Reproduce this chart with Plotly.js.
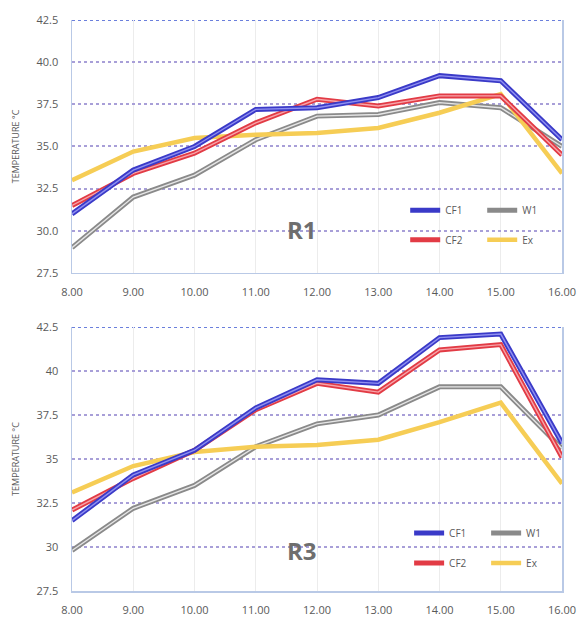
<!DOCTYPE html>
<html>
<head>
<meta charset="utf-8">
<script src="https://cdn.plot.ly/plotly-3.0.1.min.js"></script>
<style>html,body{margin:0;padding:0;background:#fff;}#chart{width:582px;height:617px;}</style>
</head>
<body>
<div id="chart"></div>
<script>
// Hours (x axis)
const hours = [8, 9, 10, 11, 12, 13, 14, 15, 16];
const xTickLabels = ["8.00","9.00","10.00","11.00","12.00","13.00","14.00","15.00","16.00"];

// R1 panel
const r1_CF1 = [31.0, 33.6, 35.0, 37.2, 37.3, 37.9, 39.2, 38.9, 35.4];
const r1_CF2 = [31.5, 33.4, 34.6, 36.4, 37.8, 37.4, 38.0, 38.0, 34.5];
const r1_W1  = [29.0, 32.0, 33.3, 35.4, 36.8, 36.9, 37.6, 37.3, 35.0];
const r1_Ex  = [33.0, 34.7, 35.5, 35.7, 35.8, 36.1, 37.0, 38.1, 33.4];

// R3 panel
const r3_CF1 = [31.5, 34.1, 35.5, 37.9, 39.5, 39.3, 41.9, 42.1, 35.9];
const r3_CF2 = [32.1, 33.9, 35.5, 37.8, 39.3, 38.8, 41.2, 41.5, 35.1];
const r3_W1  = [29.8, 32.2, 33.5, 35.7, 37.0, 37.5, 39.1, 39.1, 35.6];
const r3_Ex  = [33.1, 34.6, 35.4, 35.7, 35.8, 36.1, 37.1, 38.2, 33.6];

const seriesNames = ["CF1", "CF2", "W1", "Ex"];
const yTicks = [27.5, 30, 32.5, 35, 37.5, 40, 42.5];
const yTickTextR1 = ["27.5","30.0","32.5","35.0","37.5","40.0","42.5"];
const yTickTextR3 = ["27.5","30","32.5","35","37.5","40","42.5"];

const styles = {
  CF1: {outer: "#3a3ac8", inner: "#9090f0", w: 5, double: true},
  CF2: {outer: "#e23b45", inner: "#f7a5aa", w: 5, double: true},
  W1:  {outer: "#8a8a8a", inner: "#e6e6e6", w: 5, double: true},
  Ex:  {outer: "#f6cd55", inner: null, w: 4.5, double: false}
};

function makeTraces(data, xa, ya, legRow1, legRow2) {
  const out = [];
  const order = ["W1", "Ex", "CF2", "CF1"];
  const legendFor = {CF1: legRow1, W1: legRow1, CF2: legRow2, Ex: legRow2};
  order.forEach(name => {
    const s = styles[name];
    out.push({
      x: hours, y: data[name], name: name, type: "scatter", mode: "lines",
      xaxis: xa, yaxis: ya, legend: legendFor[name],
      line: {color: s.outer, width: s.w},
      hoverinfo: "skip"
    });
    if (s.double) {
      out.push({
        x: hours, y: data[name], name: name, type: "scatter", mode: "lines",
        xaxis: xa, yaxis: ya, showlegend: false,
        line: {color: s.inner, width: 1.4},
        hoverinfo: "skip"
      });
    }
  });
  return out;
}

const tracesTop = makeTraces({CF1: r1_CF1, CF2: r1_CF2, W1: r1_W1, Ex: r1_Ex}, "x", "y", "legend", "legend2");
const tracesBot = makeTraces({CF1: r3_CF1, CF2: r3_CF2, W1: r3_W1, Ex: r3_Ex}, "x2", "y2", "legend3", "legend4");

const font = "Open Sans, Liberation Sans, sans-serif";
const tickFont = {family: font, size: 11, color: "#595959"};

function xAxis(anchor) {
  return {
    anchor: anchor, range: [8, 16], tickvals: hours, ticktext: xTickLabels,
    showgrid: true, gridcolor: "#ececec", gridwidth: 1,
    showline: true, linecolor: "#b9c9e6", linewidth: 1.5,
    zeroline: false, ticks: "", tickfont: tickFont, ticklabelstandoff: 8
  };
}
function yAxis(anchor, domain, ttext) {
  return {
    anchor: anchor, domain: domain, range: [27.5, 42.5], tickvals: yTicks, ticktext: ttext,
    showgrid: true, gridcolor: "#a89fd8", gridwidth: 2, griddash: "dot",
    showline: true, linecolor: "#b9c9e6", linewidth: 1.5, mirror: true,
    zeroline: false, ticks: "", tickfont: tickFont, ticklabelstandoff: 10,
    title: {text: "TEMPERATURE °C", font: {family: font, size: 9, color: "#595959"}, standoff: 15}
  };
}

function legendBox(x, y) {
  return {
    orientation: "h", x: x, y: y, xanchor: "left", yanchor: "middle",
    bgcolor: "rgba(0,0,0,0)", font: {family: font, size: 10, color: "#595959"},
    entrywidth: 32, entrywidthmode: "pixels", traceorder: "reversed",
    itemclick: false, itemdoubleclick: false
  };
}

const layout = {
  width: 582, height: 617,
  margin: {l: 72, r: 20, t: 20, b: 26, autoexpand: false},
  paper_bgcolor: "#ffffff", plot_bgcolor: "#ffffff",
  showlegend: true,
  xaxis: xAxis("y"),
  yaxis: yAxis("x", [0.557, 1.0], yTickTextR1),
  xaxis2: xAxis("y2"),
  yaxis2: yAxis("x2", [0, 0.4623], yTickTextR3),
  legend: legendBox(0.68, 0.667),
  legend2: legendBox(0.68, 0.615),
  legend3: legendBox(0.688, 0.1016),
  legend4: legendBox(0.688, 0.049),
  shapes: [
    {type: "line", xref: "x domain", yref: "y", x0: 0, x1: 1, y0: 42.5, y1: 42.5,
     line: {color: "#6b7fdc", width: 2, dash: "dot"}, layer: "below"},
    {type: "line", xref: "x2 domain", yref: "y2", x0: 0, x1: 1, y0: 42.5, y1: 42.5,
     line: {color: "#6b7fdc", width: 2, dash: "dot"}, layer: "below"}
  ],
  annotations: [
    {text: "<b>R1</b>", xref: "x", yref: "y", x: 11.75, y: 30.1, showarrow: false,
     font: {family: font, size: 24, color: "#6e6e6e"}},
    {text: "<b>R3</b>", xref: "x2", yref: "y2", x: 11.75, y: 29.8, showarrow: false,
     font: {family: font, size: 24, color: "#6e6e6e"}}
  ]
};

Plotly.newPlot("chart", tracesTop.concat(tracesBot), layout, {displayModeBar: false, staticPlot: true});
</script>
</body>
</html>
